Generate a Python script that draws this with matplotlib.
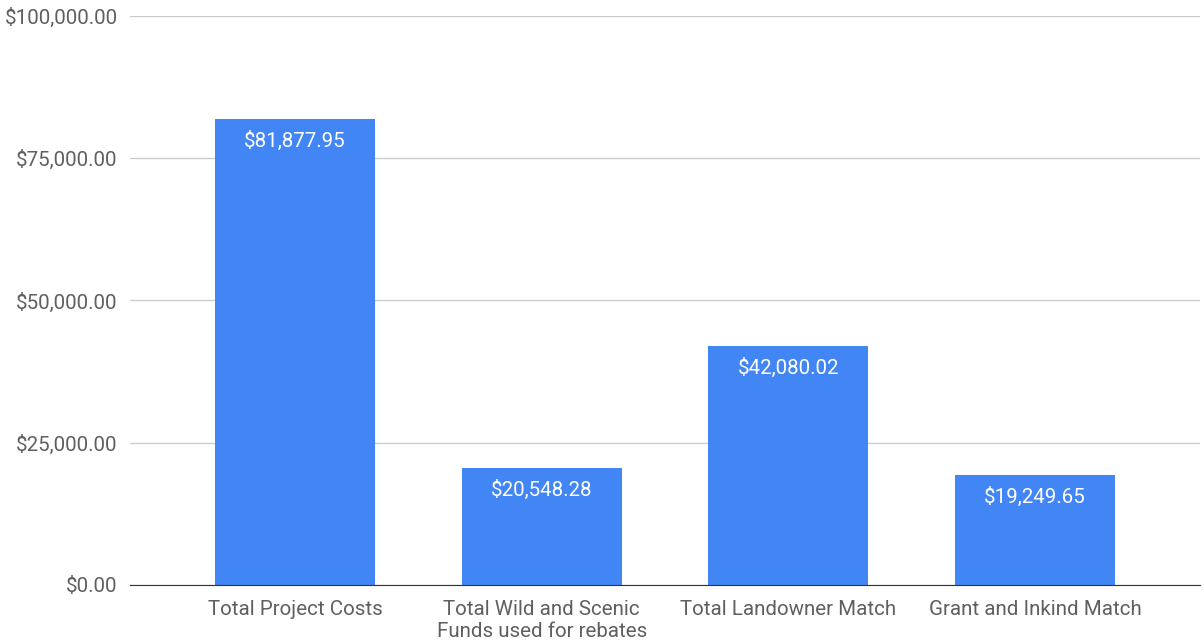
import matplotlib
matplotlib.use("Agg")
import matplotlib.pyplot as plt
from matplotlib.ticker import FuncFormatter

categories = ["Total Project Costs", "Total Wild and Scenic\nFunds used for rebates",
              "Total Landowner Match", "Grant and Inkind Match"]
values = [81877.95, 20548.28, 42080.02, 19249.65]
yticks = [0, 25000, 50000, 75000, 100000]

plt.rcParams['font.family'] = ['Roboto', 'DejaVu Sans']

fig = plt.figure(figsize=(12.04, 6.42), dpi=100)
ax = fig.add_axes([130/1204, 1-585/642, 1070/1204, 569/642])

x = list(range(len(categories)))
bars = ax.bar(x, values, width=0.65, color="#4285F4", zorder=3)
for xi, v in zip(x, values):
    ax.annotate(f"${v:,.2f}", (xi, v), xytext=(0, -8.5), textcoords="offset points",
                ha="center", va="top", color="white", fontsize=14.8, zorder=4)

ax.set_xlim(-0.669, 3.669)
ax.set_ylim(0, 100000)
ax.set_yticks(yticks)
ax.yaxis.set_major_formatter(FuncFormatter(lambda v, p: f"${v:,.2f}"))
ax.set_xticks(x)
ax.set_xticklabels(categories, linespacing=1.2)
ax.tick_params(axis='both', length=0, labelsize=14.8, labelcolor="#5f5f5f")
ax.tick_params(axis='y', pad=9)
ax.tick_params(axis='x', pad=11)
ax.grid(axis='y', color="#cccccc", linewidth=1, zorder=0)
for s in ["top", "right", "left"]:
    ax.spines[s].set_visible(False)
ax.spines["bottom"].set_color("#333333")
ax.spines["bottom"].set_zorder(5)

fig.savefig("out.png", dpi=100)
